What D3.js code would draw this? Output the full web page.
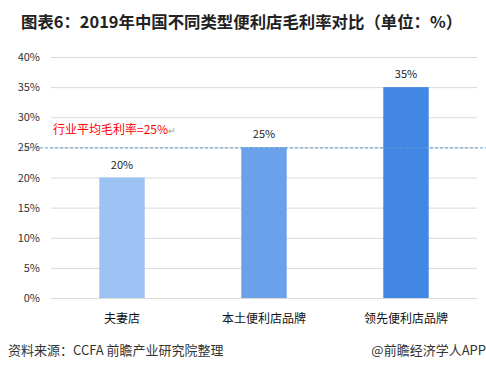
<!DOCTYPE html>
<html lang="zh">
<head>
<meta charset="UTF-8">
<title>图表6</title>
<script src="https://d3js.org/d3.v7.min.js"></script>
<style>
  body { margin: 0; background: #fff; }
  svg { display: block; font-family: "Noto Sans CJK SC", "Noto Sans", sans-serif; }
</style>
</head>
<body>
<div id="chart"></div>
<script>
// chart data
const categories = ["夫妻店", "本土便利店品牌", "领先便利店品牌"];
const values = [20, 25, 35];
const barColors = ["#9DC3F5", "#6BA1EB", "#4287E4"];
const yTicks = [0, 5, 10, 15, 20, 25, 30, 35, 40];
const avgValue = 25;

const width = 486, height = 370;
const svg = d3.select("#chart").append("svg")
    .attr("width", width)
    .attr("height", height);

// scales
const x = d3.scaleBand()
    .domain(categories)
    .range([51, 477])
    .paddingInner(0.68)
    .paddingOuter(0.34);

const y = d3.scaleLinear()
    .domain([0, 40])
    .range([298, 57]);

// title
svg.append("text")
    .attr("x", 21)
    .attr("y", 28)
    .attr("font-size", 16.4)
    .attr("font-weight", "bold")
    .attr("fill", "#222")
    .text("图表6：2019年中国不同类型便利店毛利率对比（单位：%）");

// gridlines
svg.append("g")
    .selectAll("line")
    .data(yTicks)
    .join("line")
    .attr("x1", 51)
    .attr("x2", 477)
    .attr("y1", d => y(d) + 0.5)
    .attr("y2", d => y(d) + 0.5)
    .attr("stroke", "#D9D9D9");

// y axis labels
const yAxis = d3.axisLeft(y)
    .tickValues(yTicks)
    .tickFormat(d => d + "%")
    .tickSize(0)
    .tickPadding(0);

svg.append("g")
    .attr("transform", "translate(40,0)")
    .call(yAxis)
    .call(g => g.select(".domain").remove())
    .selectAll("text")
    .attr("font-size", 11)
    .attr("fill", "#333")
    .attr("font-family", "\"Noto Sans CJK SC\", sans-serif");

// bars
svg.append("g")
    .selectAll("rect")
    .data(values)
    .join("rect")
    .attr("x", (d, i) => x(categories[i]))
    .attr("y", d => y(d))
    .attr("width", x.bandwidth())
    .attr("height", d => y(0) - y(d))
    .attr("fill", (d, i) => barColors[i]);

// value labels
svg.append("g")
    .selectAll("text")
    .data(values)
    .join("text")
    .attr("x", (d, i) => x(categories[i]) + x.bandwidth() / 2)
    .attr("y", d => y(d) - 9)
    .attr("text-anchor", "middle")
    .attr("font-size", 11)
    .attr("fill", "#222")
    .text(d => d + "%");

// category labels
const xAxis = d3.axisBottom(x).tickSize(0).tickPadding(0);
svg.append("g")
    .call(xAxis)
    .call(g => g.select(".domain").remove())
    .selectAll("text")
    .attr("y", 323)
    .attr("dy", null)
    .attr("font-size", 12)
    .attr("fill", "#111")
    .attr("font-family", "\"Noto Sans CJK SC\", sans-serif");

// average line
svg.append("line")
    .attr("x1", 20)
    .attr("x2", 486)
    .attr("y1", y(avgValue) + 0.5)
    .attr("y2", y(avgValue) + 0.5)
    .attr("stroke", "#5B9BD5")
    .attr("stroke-width", 1)
    .attr("stroke-dasharray", "3,2");

const avgLabel = svg.append("text")
    .attr("x", 53)
    .attr("y", 134)
    .attr("font-size", 12)
    .attr("fill", "#FF0000");
avgLabel.append("tspan").text("行业平均毛利率=" + avgValue + "%");
avgLabel.append("tspan").attr("fill", "#999").attr("font-size", 9).text("↵");

// footer
svg.append("text")
    .attr("x", 8)
    .attr("y", 355)
    .attr("font-size", 13)
    .attr("fill", "#333")
    .text("资料来源：CCFA 前瞻产业研究院整理");

svg.append("text")
    .attr("x", 486)
    .attr("y", 355)
    .attr("text-anchor", "end")
    .attr("font-size", 13)
    .attr("fill", "#333")
    .text("@前瞻经济学人APP");
</script>
</body>
</html>
